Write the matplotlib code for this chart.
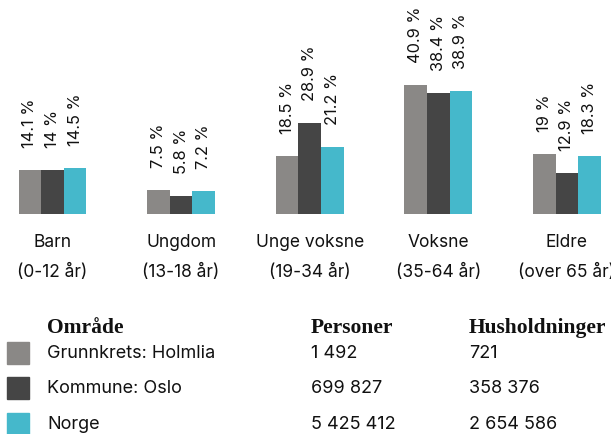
import matplotlib
matplotlib.use("Agg")
import matplotlib.pyplot as plt
import matplotlib.transforms as mtransforms
from matplotlib.patches import Rectangle
import numpy as np

# Age groups and share of population (%) in each area
categories = ["Barn", "Ungdom", "Unge voksne", "Voksne", "Eldre"]
age_ranges = ["(0-12 år)", "(13-18 år)", "(19-34 år)", "(35-64 år)", "(over 65 år)"]
holmlia = [14.1, 7.5, 18.5, 40.9, 19.0]
oslo = [14.0, 5.8, 28.9, 38.4, 12.9]
norge = [14.5, 7.2, 21.2, 38.9, 18.3]
value_labels = [
    ["14.1 %", "7.5 %", "18.5 %", "40.9 %", "19 %"],
    ["14 %", "5.8 %", "28.9 %", "38.4 %", "12.9 %"],
    ["14.5 %", "7.2 %", "21.2 %", "38.9 %", "18.3 %"],
]

# Legend table rows
areas = ["Grunnkrets: Holmlia", "Kommune: Oslo", "Norge"]
persons = ["1 492", "699 827", "5 425 412"]
households = ["721", "358 376", "2 654 586"]
headers = ["Område", "Personer", "Husholdninger"]

colors = ["#8a8886", "#454545", "#45b8cb"]

W, H = 611, 435
fig = plt.figure(figsize=(W / 100, H / 100), dpi=100)

base_px = 215  # baseline, pixels from top
ax = fig.add_axes([0, (H - base_px) / H, 1, base_px / H])
ax.set_axis_off()

group_w = 128.6
c0 = 52.5
px_per_pct = 3.155
ax.set_xlim(-c0 / group_w, (W - c0) / group_w)
ax.set_ylim(0, base_px / px_per_pct)

sans = ["Inter", "DejaVu Sans"]
txt_col = "#111111"
bw = 22.6 / group_w
x = np.arange(len(categories))
for k, (series, col) in enumerate(zip([holmlia, oslo, norge], colors)):
    xs = x + (k - 1) * bw
    ax.bar(xs, series, width=bw, color=col, edgecolor="none", clip_on=False)
    for xi, v, lab in zip(xs, series, value_labels[k]):
        ax.annotate(lab, (xi, v), xytext=(0, 16.5), textcoords="offset points",
                    rotation=90, ha="center", va="bottom", fontsize=11.8,
                    family=sans, color=txt_col, annotation_clip=False)

# Category labels under the groups
trans = mtransforms.blended_transform_factory(ax.transData, fig.transFigure)
for xi, cat, rng in zip(x, categories, age_ranges):
    ax.text(xi, 1 - 243 / H, cat, transform=trans, ha="center", va="center",
            fontsize=12.5, family=sans, color=txt_col)
    ax.text(xi, 1 - 272 / H, rng, transform=trans, ha="center", va="center",
            fontsize=12.5, family=sans, color=txt_col)


def fx(px):
    return px / W


def fy(py):
    return 1 - py / H


# Legend table
serif = ["Liberation Serif", "DejaVu Serif"]
col_x = [47, 311, 469]
for cx, h in zip(col_x, headers):
    fig.text(fx(cx), fy(328), h, ha="left", va="center", fontsize=15.5,
             fontweight="bold", family=serif, color=txt_col)

row_y = [354, 389, 425]
for ry, col, a, p, hh in zip(row_y, colors, areas, persons, households):
    fig.patches.append(Rectangle((fx(7), fy(ry + 11)), 22 / W, 22 / H,
                                 transform=fig.transFigure, color=col))
    for cx, t in zip(col_x, [a, p, hh]):
        fig.text(fx(cx), fy(ry), t, ha="left", va="center", fontsize=13,
                 family=sans, color=txt_col)

fig.savefig("out.png", dpi=100)
